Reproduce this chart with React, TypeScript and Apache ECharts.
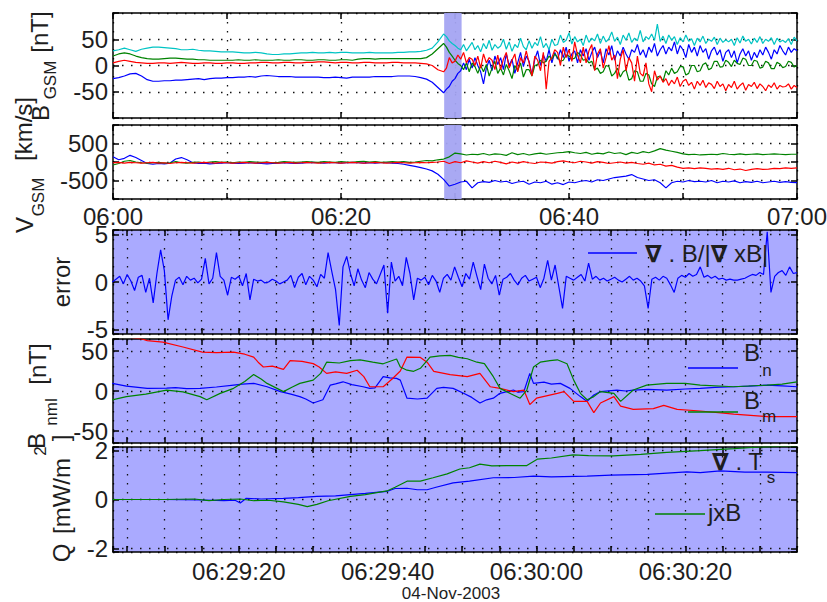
import React, { useEffect, useRef } from "react";
import * as echarts from "echarts";

// ---------------- Top panels: minutes after 06:00 ----------------
// B_GSM: quiet part sampled every 0.5 min from 06:00, disturbed part every 0.25 min from 06:29
const PRE_T0 = 0;
const PRE_DT = 0.5;
const POST_T0 = 29;
const POST_DT = 0.25;

const bCyanPre = [
  28, 30, 33, 30, 27, 31, 33, 35, 35, 34,
  33, 32, 30, 30, 31, 29, 28, 28, 27, 26,
  26, 26, 25, 24, 24, 25, 24, 22, 21, 21,
  22, 22, 23, 24, 24, 25, 24, 24, 25, 24,
  25, 25, 24, 24, 24, 25, 24, 24, 24, 24,
  25, 25, 26, 26, 27, 29, 33, 45,
];
const bCyanPost = [
  60, 55, 47, 42, 38, 33, 30, 40, 28, 36,
  44, 30, 38, 26, 42, 32, 48, 29, 40, 33,
  37, 50, 31, 45, 27, 40, 34, 52, 36, 30,
  47, 33, 44, 38, 55, 34, 42, 30, 50, 38,
  40, 58, 44, 48, 62, 41, 55, 45, 50, 38,
  58, 44, 52, 47, 60, 42, 56, 45, 51, 64,
  46, 54, 40, 58, 48, 62, 44, 52, 47, 67,
  45, 55, 50, 60, 48, 79, 46, 56, 42, 58,
  48, 55, 40, 53, 45, 58, 46, 51, 38, 52,
  45, 56, 42, 50, 46, 54, 40, 52, 44, 49,
  45, 50, 38, 53, 43, 56, 46, 50, 41, 52,
  44, 55, 42, 50, 46, 53, 40, 52, 45, 48,
  44, 51, 40, 54, 47,
];
const bBluePre = [
  -25, -23, -20, -16, -15, -20, -27, -30, -30, -29,
  -29, -28, -28, -27, -26, -25, -27, -25, -24, -24,
  -23, -23, -22, -22, -21, -22, -20, -19, -20, -21,
  -21, -21, -22, -22, -22, -22, -22, -23, -23, -22,
  -23, -24, -22, -22, -22, -22, -21, -21, -21, -21,
  -20, -20, -20, -21, -23, -26, -32, -42,
];
const bBluePost = [
  -52, -45, -40, -30, -25, -15, -10, 5, -8, 12,
  -5, 15, 0, -12, -35, -5, 10, -10, 18, 2,
  15, -8, 22, 0, 12, -15, 5, 25, -2, 18,
  8, -18, 12, 28, 0, 20, 8, 30, 5, 25,
  12, 30, 15, 35, 8, 22, 28, 5, 30, 18,
  32, 10, 25, 35, 15, 28, 5, 32, 20, 38,
  10, 28, 18, 35, 22, 12, 30, 25, 40, 20,
  30, 15, 35, 25, 42, 18, 30, 38, 22, 35,
  28, 45, 22, 38, 30, 15, 40, 25, 35, 18,
  38, 25, 32, 12, 28, 35, 20, 30, 8, 25,
  30, 15, 28, 5, 22, 32, 18, 28, 10, 25,
  15, 30, 20, 35, 25, 12, 30, 22, 38, 28,
  20, 35, 25, 32, 28,
];
const bGreenPre = [
  18, 22, 24, 22, 18, 15, 13, 12, 12, 13,
  14, 14, 13, 12, 12, 11, 11, 10, 10, 10,
  10, 10, 11, 10, 10, 11, 10, 10, 10, 11,
  10, 10, 11, 11, 10, 10, 11, 11, 10, 10,
  11, 11, 10, 12, 13, 13, 12, 13, 13, 13,
  13, 13, 13, 13, 13, 15, 22, 32,
];
const bGreenPost = [
  42, 35, 25, 18, 10, 4, 0, -8, 5, -12,
  5, -2, -15, 0, -12, 2, -20, -5, 8, -15,
  -5, -18, 2, -10, -25, 0, -10, 5, -22, -8,
  -8, -20, 0, 2, 10, 5, 8, 18, 12, 22,
  15, 8, 10, 20, 18, 12, 14, 25, 20, 10,
  12, 5, 8, -8, -5, -15, -12, 0, -2, -20,
  -15, -5, -22, -12, -8, -28, -25, -10, -12, -30,
  -30, -15, -18, -35, -40, -22, -20, -30, -10, -18,
  -5, -15, -12, -2, -2, -18, -15, 0, 0, -12,
  -10, 2, 5, -8, -5, 8, 8, -3, -2, 10,
  6, -2, 10, 4, 2, 14, 12, 0, 0, 10,
  8, -5, -3, 8, 5, -6, -6, 6, 3, -4,
  -2, 8, 6, -3, 0,
];
const bRedPre = [
  5, 8, 10, 8, 6, 5, 4, 4, 5, 5,
  4, 5, 6, 5, 4, 4, 5, 5, 4, 4,
  5, 5, 4, 4, 5, 5, 6, 6, 5, 5,
  6, 6, 5, 5, 6, 6, 7, 7, 6, 5,
  6, 6, 5, 5, 6, 6, 5, 5, 5, 6,
  6, 5, 5, 5, 4, 3, 0, -8,
];
const bRedPost = [
  -12, -5, 15, 5, 8, 20, 12, 25, 5, 15,
  12, 0, 18, -5, 22, 5, 15, 10, -8, 20,
  -8, 12, 25, -5, 10, 22, -12, 15, 5, 28,
  5, -20, 18, 10, -10, 25, -45, 8, 15, 30,
  25, 0, 35, 15, 30, 8, 45, 20, 5, 35,
  5, 28, 40, -10, 22, 32, -5, 15, 38, 10,
  20, -25, 12, 30, -10, 15, 5, -30, 18, -15,
  -20, 5, -35, -50, -10, -28, -20, -32, -25, -38,
  -28, -35, -22, -40, -30, -26, -38, -32, -45, -30,
  -38, -28, -42, -33, -36, -44, -30, -40, -35, -48,
  -36, -42, -30, -45, -38, -33, -47, -36, -40, -32,
  -44, -35, -40, -48, -37, -42, -33, -45, -38, -41,
  -40, -35, -45, -38, -42,
];

// V_GSM: every 0.5 min from 06:00
const V_T0 = 0;
const V_DT = 0.5;
const vgsmBlue = [
  140, 60, 100, 180, 120, 40, -40, -60, -40, -50,
  -30, 80, 120, 60, -20, -40, -30, -50, -40, -30,
  -20, -30, -40, -30, -20, -30, -40, -50, -40, -30,
  -20, -30, -40, -30, -20, -10, -20, -30, -20, -20,
  -30, -20, -10, -20, -30, -20, -30, -20, -20, -30,
  -40, -60, -90, -120, -150, -190, -240, -330,
  -470, -650, -600, -540, -520, -700, -560, -530, -550, -500,
  -540, -520, -580, -540, -520, -600, -540, -560, -520, -600,
  -560, -610, -540, -560, -520, -500, -540, -480, -500, -460,
  -420, -400, -380, -340, -420, -460, -500, -480, -560, -700,
  -560, -520, -540, -500, -530, -520, -540, -500, -560, -520,
  -540, -510, -560, -530, -550, -520, -560, -540, -520, -550,
  -530, -550, -560,
];
const vgsmGreen = [
  -80, -40, 20, 40, 0, -20, -30, -20, -10, -30,
  -20, 10, -20, -30, -10, 0, -20, 0, 10, -10,
  0, -20, 0, -10, 10, 0, -10, 0, -20, -10,
  10, 0, -10, 0, 10, 0, -10, 10, 0, -10,
  10, 0, -10, 10, 20, 0, 10, -10, 0, 10,
  0, 10, -10, 0, 20, 40, 30, 60,
  80, 140, 240, 220, 190, 210, 200, 230, 190, 220,
  210, 180, 250, 200, 230, 190, 220, 240, 210, 230,
  250, 260, 280, 250, 230, 260, 210, 240, 220, 270,
  230, 250, 200, 260, 230, 280, 250, 300, 360, 320,
  290, 260, 220, 200, 210, 190, 200, 210, 200, 230,
  210, 200, 220, 200, 210, 220, 200, 210, 220, 210,
  200, 210, 210,
];
const vgsmRed = [
  -20, -10, -30, -10, -20, -30, -20, -10, -30, -20,
  -40, -20, -10, -20, -30, -20, -10, -20, -30, -10,
  -20, -30, -20, -10, -20, -30, -20, -10, -20, -30,
  -20, -10, -30, -20, -10, -20, -30, -20, -10, -20,
  -30, -20, -10, -20, -30, -20, -10, -20, -30, -20,
  -10, -20, -30, -20, -10, -20, -10, 0,
  20, -40, 10, -20, 30, 0, -30, 10, -20, 20,
  -10, -50, 0, -30, 10, -20, -40, 0, -10, -30,
  10, 30, 0, -20, 20, 0, -30, 10, -10, -40,
  -20, 0, -30, -10, -40, -60, -30, -80, -60, -110,
  -90, -140, -170, -160, -180, -160, -170, -190, -180, -200,
  -170, -210, -190, -230, -200, -180, -200, -190, -170, -180,
  -160, -170, -160,
];
const topTickLabels = [0, 20, 40, 60]; // minutes after 06:00
const SHADE_START = 29.05; // minutes after 06:00
const SHADE_END = 30.58;

// ---------------- Bottom panels: seconds after 06:29:00 ----------------
const ERR_T0 = 3;
const ERR_DT = 0.5;
const errorValues = [
  0.0, 0.3, 0.6, -0.2, 0.8, 0.1, -0.9, 0.5, 0.7, -1.1,
  0.4, -2.2, 0.9, 3.4, 1.2, -4.0, -1.5, 0.2, 0.5, -0.3,
  0.6, 0.2, 0.4, -0.1, 0.3, 2.5, -0.2, 0.4, 3.1, 0.6,
  0.2, -1.4, 0.5, 0.3, 0.6, -0.4, 0.9, -1.9, 0.3, 0.1,
  0.2, -0.1, 0.0, 0.3, 0.1, -0.2, 0.0, 0.2, 0.7, -0.6,
  0.5, 0.9, -0.3, 0.6, 0.2, -0.5, 0.8, 0.4, 3.1, 1.1,
  -0.8, -4.6, 1.6, 2.7, 0.9, -0.4, 1.4, 0.2, -0.6, 1.0,
  0.3, -0.2, 0.8, 1.8, -3.3, 2.1, 0.1, 0.6, -0.4, 2.6,
  0.9, -1.9, 0.4, 0.2, 0.5, -0.3, 0.7, 0.1, -1.1, 0.4,
  0.8, 0.2, 1.6, 0.5, -0.5, 0.9, 0.3, 2.1, 0.6, -0.8,
  1.9, 0.4, -0.2, 0.7, -1.4, 0.3, 0.5, 0.9, 0.2, -0.3,
  0.4, 0.7, 0.1, 0.3, 0.5, -0.6, 0.4, 2.3, 0.2, 1.8,
  -0.5, -2.8, 0.6, 0.4, 0.2, 0.5, 0.8, 0.1, 2.0, 0.3,
  0.6, 0.2, 0.4, 0.1, 0.3, 0.5, 0.2, 0.0, 0.3, 0.6,
  0.2, 0.4, 0.1, -0.4, -2.8, 0.3, 0.5, 0.2, 0.6, 0.4,
  -0.3, -1.1, 0.4, 0.7, 0.5, 0.9, 0.6, 0.8, 1.6, 0.5,
  0.7, 0.4, 0.6, 0.3, 0.4, 0.2, 0.3, 0.2, 0.2, 0.3,
  0.4, 0.6, 0.8, 0.7, 1.0, 0.8, 5.3, -1.1, 0.6, 1.0,
  1.2, 0.7, 1.6, 0.9, 1.0,
];
const bnPairs = [
  [3.0, 9.5], [4.9, 6], [7.7, 3.3], [10.3, 3.5], [11.5, 4.2], [13.0, 3.0], [14.8, 3.3], [17.0, 5],
  [19.3, 7.4], [20.5, 8.5], [22.0, 9.5], [23.8, 5.3], [25.6, -0.8], [27.0, -4], [28.2, -7], [29.0, -10],
  [30.0, -15], [31.3, -11], [32.3, 7.4], [33.0, 9], [34.0, 11.5], [35.2, 8], [36.7, 5.3], [37.6, 3.3],
  [38.3, 4], [39.4, 17.9], [40.3, 16.5], [41.2, 15.8], [41.7, 13.6], [42.6, -9], [44.0, -10], [45.3, -9],
  [46.6, 3.3], [47.5, 4.5], [48.8, 3.3], [50.2, -2.9], [51.3, -8], [52.4, -15], [53.3, -11], [54.2, -9],
  [55.1, -2.9], [56.9, 1.2], [57.5, -1.5], [58.3, -0.8], [59.1, 21.8], [59.6, 9.5], [61.0, 11], [62.0, 8.5],
  [63.2, 9.5], [64.5, 3.3], [65.9, -7], [66.8, -13], [67.7, -5], [68.6, -0.8], [70.8, 1.2], [72.0, 0],
  [73.0, 1.2], [75.0, 2], [77.5, 1.2], [80.0, 2.5], [82.0, 3.3], [84.0, 4.5], [86.5, 5.3], [88.5, 6],
  [91.0, 7.4], [93.0, 6.5], [95.0, 5.3],
];
const bmPairs = [
  [3.0, -11], [4.9, -7], [7.5, -4], [10.3, 1.2], [12.5, -1], [14.8, -7], [15.7, -11], [17.5, -3],
  [19.3, 3.3], [20.8, 12], [22.0, 20.5], [23.0, 15], [23.8, 9.5], [26.0, -0.8], [27.2, 5], [28.2, 9.5],
  [30.0, 13.6], [31.0, 22], [31.8, 36], [33.5, 35], [35.0, 38], [36.3, 39], [38.0, 36], [39.4, 34],
  [41.2, 40], [41.7, 30], [42.6, 26], [43.5, 24.6], [44.4, 28.4], [45.7, 42.4], [47.0, 44], [48.4, 44.5],
  [49.5, 42], [50.7, 40.3], [52.0, 36], [53.0, 34.2], [54.2, 17.9], [55.1, 3.3], [56.4, -2.9], [57.8, -9],
  [58.7, 1.2], [59.6, 30], [60.5, 36], [61.8, 38], [62.8, 39], [64.1, 34], [65.0, 13.6], [65.9, -2.9],
  [66.8, -11], [67.7, -7], [68.6, -0.8], [70.4, -2.9], [71.3, -13], [73.0, 1.2], [74.8, 7.4], [77.5, 9.5],
  [80.0, 9.5], [82.0, 7.4], [86.5, 5.3], [91.0, 7.4], [93.0, 8.5], [95.0, 11.5],
];
const blPairs = [
  [3.0, 70], [7.0, 65], [7.7, 63], [9.8, 61], [12.5, 55], [15.1, 48.6], [17.0, 48], [19.3, 48.6],
  [20.8, 46], [22.0, 42.4], [22.6, 36], [23.3, 30], [24.5, 31], [26.0, 27], [26.9, 38], [28.5, 37],
  [30.0, 34.2], [30.8, 30], [31.8, 22], [33.0, 24], [34.5, 22], [35.9, 26], [36.8, 18], [37.6, 5.3],
  [39.4, 5.3], [40.6, 15], [41.7, 25], [42.6, 42.4], [44.4, 42], [45.3, 36], [46.2, 24.6], [48.4, 20.5],
  [50.7, 18], [52.4, 22], [53.8, 5.3], [55.1, 3.3], [56.9, -0.8], [58.3, 1.2], [59.1, -17], [60.0, -9],
  [62.8, -2.9], [63.7, -0.8], [65.0, -13], [66.8, -13], [67.7, -27], [68.6, -15], [70.4, -7], [71.3, -19],
  [73.0, -23], [75.7, -22], [77.1, -18], [78.9, -23], [82.0, -25], [86.5, -29], [91.0, -32], [95.0, -32],
];
const qDivTPairs = [
  [3.0, 0], [10, 0], [15, -0.02], [18, -0.05], [19.5, -0.03], [20.2, -0.14], [21, 0.05], [23, 0.02],
  [26, 0.05], [28, 0.08], [30.5, 0.13], [33, 0.15], [35, 0.2], [37, 0.25], [39.9, 0.33], [41, 0.45],
  [42.6, 0.46], [44, 0.4], [45.3, 0.4], [46.5, 0.5], [48.8, 0.68], [51, 0.75], [54.2, 0.89], [57, 0.9],
  [59.6, 0.96], [62, 0.93], [66.8, 0.96], [70, 1.0], [74.9, 1.03], [77, 1.07], [80.2, 1.13], [82, 1.1],
  [84.7, 1.17], [88, 1.12], [91, 1.12], [95, 1.1],
];
const qJxBPairs = [
  [3.0, 0], [10, 0], [14, 0.02], [16, -0.05], [18, 0], [20.2, 0.02], [22, -0.05], [24, -0.03],
  [26, -0.1], [28, -0.2], [29.2, -0.29], [30.5, -0.2], [32, -0.05], [35, 0.13], [37, 0.2], [39.9, 0.35],
  [41, 0.5], [42.6, 0.75], [44.4, 0.75], [46.1, 0.89], [48, 1.05], [49.7, 1.25], [51, 1.3], [52.4, 1.45],
  [54, 1.38], [56, 1.39], [58.7, 1.39], [60.1, 1.65], [62, 1.7], [64.9, 1.83], [67, 1.8], [70.3, 1.79],
  [74, 1.85], [77.5, 1.93], [82, 2.0], [86.5, 2.08], [90, 2.15], [95, 2.2],
];
const bottomTickLabels = [20, 40, 60, 80]; // seconds after 06:29:00

// ---------------- styling / layout ----------------
const FONT = '"Liberation Sans", "DejaVu Sans", Arial, sans-serif';
const TXT = "#1e1e1e";
const PANEL_BG = "#aaaaff";
const SHADE_BG = "#a4a4f2";
const BLUE = "#0000ff";
const GREEN = "#008200";
const RED = "#ff0000";
const CYAN = "#00c4c4";

const LEFT = 113;
const RIGHT = 30;
const TOP_X = [0, 60, 10];
const BOT_X = [3.1, 95, 5];

const PANELS = [
  { top: 13, height: 105, x: TOP_X, y: [-100, 100, 50], yl: [-50, 0, 50], bg: "transparent", xl: 0 },
  { top: 125, height: 74, x: TOP_X, y: [-1000, 1000, 500], yl: [-500, 0, 500], bg: "transparent", xl: 1 },
  { top: 230, height: 104, x: BOT_X, y: [-5.5, 5.5, 5], yl: [-5, 0, 5], bg: PANEL_BG, xl: 0 },
  { top: 339, height: 104, x: BOT_X, y: [-65, 65, 50], yl: [-50, 0, 50], bg: PANEL_BG, xl: 0 },
  { top: 447, height: 105, x: BOT_X, y: [-2.15, 2.15, 2], yl: [-2, 0, 2], bg: PANEL_BG, xl: 2 },
];

const has = (list: number[], v: number) => list.some((l) => Math.abs(l - v) < 1e-6);
const pad = (n: number) => (n < 10 ? "0" + n : "" + n);
const fmtTop = (m: number) => {
  const total = 6 * 60 + Math.round(m);
  return pad(Math.floor(total / 60)) + ":" + pad(total % 60);
};
const fmtBottom = (s: number) => {
  const total = 6 * 3600 + 29 * 60 + Math.round(s);
  return pad(Math.floor(total / 3600)) + ":" + pad(Math.floor((total % 3600) / 60)) + ":" + pad(total % 60);
};

const DOT = { color: "#111", width: 1.3, type: [1.5, 7.5] };
const AXLINE = { show: true, onZero: false, lineStyle: { color: "#000", width: 1.5 } };
const TICK = { show: true, inside: true, length: 6, lineStyle: { color: "#000", width: 1.5 } };

function buildOption() {
  const grid: any[] = [];
  const xAxis: any[] = [];
  const yAxis: any[] = [];
  PANELS.forEach((p, i) => {
    grid.push({
      left: LEFT, right: RIGHT, top: p.top, height: p.height,
      show: true, backgroundColor: p.bg, borderWidth: 0,
      containLabel: false, outerBoundsMode: "none",
    });
    const [xmin, xmax, xstep] = p.x;
    const xbase = {
      gridIndex: i, type: "value", min: xmin, max: xmax,
      minInterval: xstep, maxInterval: xstep,
      splitNumber: Math.round((xmax - xmin) / xstep),
    };
    xAxis.push({
      ...xbase, position: "bottom", axisLine: AXLINE, axisTick: TICK,
      splitLine: { show: true, lineStyle: DOT },
      axisLabel: {
        show: p.xl > 0,
        margin: p.xl === 1 ? 5 : 7,
        fontFamily: FONT, fontSize: 24, color: TXT,
        formatter: (v: number) =>
          p.xl === 1 ? (has(topTickLabels, v) ? fmtTop(v) : "") : has(bottomTickLabels, v) ? fmtBottom(v) : "",
      },
    });
    xAxis.push({
      ...xbase, position: "top", axisLine: AXLINE, axisTick: TICK,
      splitLine: { show: false }, axisLabel: { show: false },
    });
    const [ymin, ymax, ystep] = p.y;
    const ybase = {
      gridIndex: i, type: "value", min: ymin, max: ymax,
      minInterval: ystep, maxInterval: ystep,
      splitNumber: Math.round((ymax - ymin) / ystep),
    };
    yAxis.push({
      ...ybase, position: "left", axisLine: AXLINE, axisTick: TICK,
      splitLine: { show: true, lineStyle: DOT },
      axisLabel: {
        show: true, margin: 5, fontFamily: FONT, fontSize: 24, color: TXT,
        formatter: (v: number) => (has(p.yl, v) ? String(Math.round(v)) : ""),
      },
    });
    yAxis.push({
      ...ybase, position: "right", axisLine: AXLINE, axisTick: TICK,
      splitLine: { show: false }, axisLabel: { show: false },
    });
  });

  const joinB = (pre: number[], post: number[]) => [
    ...pre.map((v, i) => [PRE_T0 + i * PRE_DT, v]),
    ...post.map((v, i) => [POST_T0 + i * POST_DT, v]),
  ];
  const zipV = (vals: number[]) => vals.map((v, i) => [V_T0 + i * V_DT, v]);
  const errData = errorValues.map((v, i) => [ERR_T0 + i * ERR_DT, v]);

  const line = (g: number, data: any[], color: string, width = 1.2, z = 3) => ({
    type: "line", xAxisIndex: 2 * g, yAxisIndex: 2 * g, data, showSymbol: false, symbol: "none",
    lineStyle: { color, width }, itemStyle: { color }, silent: true, z,
  });
  const shade = (g: number) => ({
    type: "line", xAxisIndex: 2 * g, yAxisIndex: 2 * g, data: [], silent: true, z: 1,
    markArea: {
      silent: true, itemStyle: { color: SHADE_BG, opacity: 0.95 },
      data: [[{ xAxis: SHADE_START }, { xAxis: SHADE_END }]],
    },
  });

  const series = [
    shade(0),
    line(0, joinB(bCyanPre, bCyanPost), CYAN, 1.2),
    line(0, joinB(bBluePre, bBluePost), BLUE, 1.2),
    line(0, joinB(bGreenPre, bGreenPost), GREEN, 1.2),
    line(0, joinB(bRedPre, bRedPost), RED, 1.2),
    shade(1),
    line(1, zipV(vgsmBlue), BLUE),
    line(1, zipV(vgsmGreen), GREEN),
    line(1, zipV(vgsmRed), RED),
    line(2, errData, BLUE, 1.2),
    line(3, bnPairs, BLUE),
    line(3, blPairs, RED),
    line(3, bmPairs, GREEN),
    line(4, qDivTPairs, BLUE),
    line(4, qJxBPairs, GREEN),
  ];

  const t = (x: number, y: number, text: string, size: number, opt: any = {}) => ({
    type: "text", x, y, rotation: opt.rot || 0, z: 100, silent: true,
    style: {
      text, fill: TXT,
      font: `${opt.weight || "normal"} ${size}px ${FONT}`,
      fontSize: size, fontFamily: FONT, fontWeight: opt.weight || "normal",
      textAlign: opt.align || "center", align: opt.align || "center",
      textVerticalAlign: "middle", verticalAlign: "middle",
      rich: opt.rich,
    },
  });
  const R = Math.PI / 2;
  const seg = (x1: number, y1: number, x2: number, y2: number, color: string) => ({
    type: "line", z: 100, silent: true, shape: { x1, y1, x2, y2 }, style: { stroke: color, lineWidth: 1.5 },
  });
  const nablaRich = { n: { fontWeight: "bold", fontSize: 24, fontFamily: FONT, fill: TXT } };

  const graphic = [
    // axis titles (rotated)
    t(40, 113, "B", 24, { rot: R }),
    t(50, 80, "GSM", 17, { rot: R }),
    t(39, 32, "[nT]", 24, { rot: R }),
    t(24, 225, "V", 24, { rot: R }),
    t(38, 197, "GSM", 17, { rot: R }),
    t(23, 129, "[km/s]", 24, { rot: R }),
    t(61, 282, "error", 24, { rot: R }),
    t(36, 441, "B", 24, { rot: R }),
    t(51, 412, "nml", 17, { rot: R }),
    t(37, 364, "[nT]", 24, { rot: R }),
    t(61, 553, "Q", 24, { rot: R }),
    t(61, 496, "[mW/m", 24, { rot: R }),
    t(40, 451, "2", 17, { rot: R }),
    t(60, 438, "]", 24, { rot: R }),
    // legends
    seg(588, 253, 637, 253, BLUE),
    t(645, 253, "{n|∇} . B/|{n|∇} xB|", 24, { align: "left", rich: nablaRich }),
    seg(688, 368, 738, 368, BLUE),
    t(752, 352, "B", 24),
    t(767, 370, "n", 17),
    seg(688, 412, 738, 412, GREEN),
    t(752, 400, "B", 24),
    t(769, 416, "m", 17),
    t(712, 461, "{n|∇} . T", 24, { align: "left", rich: nablaRich }),
    t(771, 477, "s", 17),
    seg(655, 514, 705, 514, GREEN),
    t(708, 512, "jxB", 24, { align: "left" }),
    // date
    t(451, 593, "04-Nov-2003", 17),
  ];

  return { animation: false, backgroundColor: "#ffffff", grid, xAxis, yAxis, series, graphic };
}

export default function App() {
  const ref = useRef<HTMLDivElement>(null);
  useEffect(() => {
    if (!ref.current) return;
    const chart = echarts.init(ref.current, null, { renderer: "svg" });
    chart.setOption(buildOption() as any);
    return () => chart.dispose();
  }, []);
  return (
    <div
      ref={ref}
      style={{ position: "absolute", left: 0, top: 0, width: 827, height: 602, background: "#fff" }}
    />
  );
}
